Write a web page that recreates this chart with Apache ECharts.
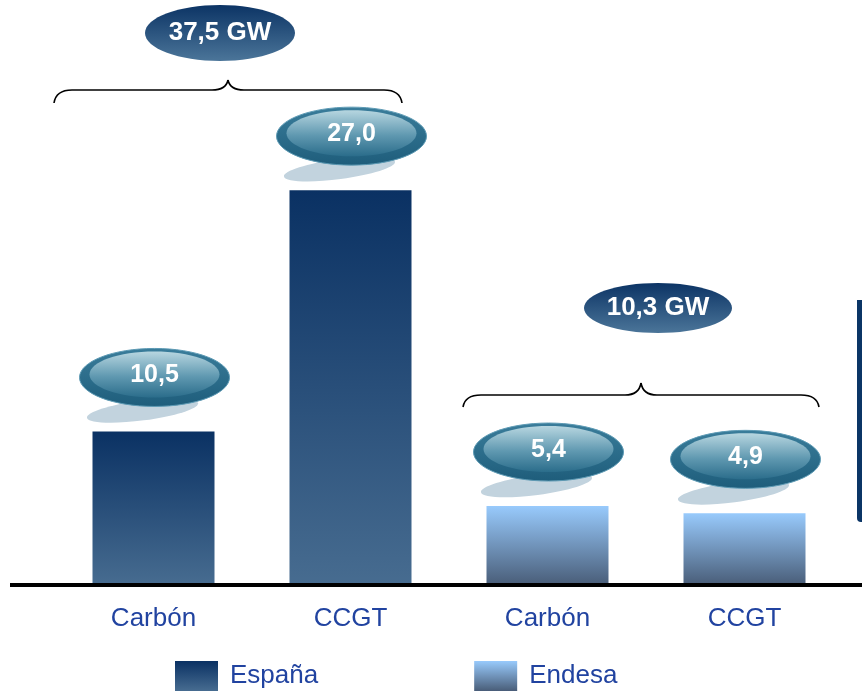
<!DOCTYPE html>
<html><head><meta charset="utf-8">
<script src="https://cdn.jsdelivr.net/npm/echarts@6/dist/echarts.min.js"></script>
<style>html,body{margin:0;padding:0;background:#fff}#c{width:862px;height:691px}</style>
</head><body><div id="c"></div>
<script>
const categories = ['Carbón', 'CCGT', 'Carbón', 'CCGT'];
const espana = [10.5, 27.0, null, null];
const endesa = [null, null, 5.4, 4.9];
const valueLabels = ['10,5', '27,0', '5,4', '4,9'];
const totals = ['37,5 GW', '10,3 GW'];
const seriesNames = ['España', 'Endesa'];

const chart = echarts.init(document.getElementById('c'));
const gEsp = new echarts.graphic.LinearGradient(0,0,0,1,[{offset:0,color:'#0a3163'},{offset:1,color:'#476c90'}]);
const gEnd = new echarts.graphic.LinearGradient(0,0,0,1,[{offset:0,color:'#98cafc'},{offset:1,color:'#495d78'}]);
const FONT = 'Liberation Sans, Arial, sans-serif';

chart.setOption({
  animation:false,
  grid:{left:55,right:19,top:0,bottom:106},
  xAxis:{type:'category',data:categories,axisLine:{show:false},axisTick:{show:false},
    axisLabel:{margin:21,fontSize:26,color:'#2143a0',fontFamily:FONT}},
  yAxis:{type:'value',min:0,max:40,show:false,splitLine:{show:false}},
  legend:{left:170,top:656,itemWidth:43,itemHeight:30,itemGap:156,icon:'rect',
    textStyle:{fontSize:26,color:'#2143a0',fontFamily:FONT,padding:[0,0,0,7]},
    data:seriesNames},
  series:[
    {name:seriesNames[0],type:'bar',data:espana,barWidth:122,barGap:'-100%',itemStyle:{color:gEsp}},
    {name:seriesNames[1],type:'bar',data:endesa,barWidth:122,barGap:'-100%',itemStyle:{color:gEnd}}
  ]
});

const g = [];
const base = chart.convertToPixel({seriesIndex:0},[0,0])[1];
g.push({type:'rect',shape:{x:10,y:base-2,width:852,height:4},style:{fill:'#000'},z:10});
g.push({type:'rect',shape:{x:857,y:300,width:6,height:222,r:[0,0,0,4]},style:{fill:'#0b3566'}});

function labelEllipse(cx,cy,text){
  g.push({type:'ellipse',shape:{cx:0,cy:0,rx:56,ry:10},x:cx-12,y:cy+33,rotation:0.13,
    style:{fill:'#c2d3de'},z:5});
  g.push({type:'ellipse',shape:{cx:cx,cy:cy,rx:75,ry:29},
    style:{fill:new echarts.graphic.LinearGradient(0,0,0,1,[{offset:0,color:'#3a7d9b'},{offset:1,color:'#1e5d7b'}]),
      stroke:'#5d9ab4',lineWidth:1},z:6});
  g.push({type:'ellipse',shape:{cx:cx,cy:cy-3,rx:65,ry:23},
    style:{fill:new echarts.graphic.LinearGradient(0,0,0,1,[{offset:0,color:'#b7d6e0'},{offset:0.55,color:'#5f98b0'},{offset:1,color:'#2b6d8b'}])},z:7});
  g.push({type:'text',x:cx,y:cy-2,style:{text:text,fill:'#fff',font:'bold 25px '+FONT,align:'center',verticalAlign:'middle'},z:8});
}
const sIdx = [0,0,1,1];
const vals = [espana[0],espana[1],endesa[2],endesa[3]];
for(let i=0;i<4;i++){
  const p = chart.convertToPixel({seriesIndex:sIdx[i]},[i,vals[i]]);
  labelEllipse(p[0]+1,p[1]-54,valueLabels[i]);
}
function totalEllipse(cx,cy,rx,ry,text){
  g.push({type:'ellipse',shape:{cx:cx,cy:cy,rx:rx,ry:ry},
    style:{fill:new echarts.graphic.LinearGradient(0,0,0,1,[{offset:0,color:'#0c3465'},{offset:1,color:'#4b7599'}])},z:6});
  g.push({type:'text',x:cx,y:cy,style:{text:text,fill:'#fff',font:'bold 26px '+FONT,align:'center',verticalAlign:'middle'},z:7});
}
totalEllipse(220,33,75,28,totals[0]);
totalEllipse(658,308,74,25,totals[1]);

function brace(x1,x2,xm,yEnd,yLine,yPeak){
  const st = {stroke:'#000',lineWidth:1.6,fill:null};
  g.push({type:'bezierCurve',shape:{x1:x1,y1:yEnd,x2:x1+18,y2:yLine,cpx1:x1+2,cpy1:yLine},style:st});
  g.push({type:'line',shape:{x1:x1+18,y1:yLine,x2:xm-16,y2:yLine},style:st});
  g.push({type:'bezierCurve',shape:{x1:xm-16,y1:yLine,x2:xm,y2:yPeak,cpx1:xm-2,cpy1:yLine},style:st});
  g.push({type:'bezierCurve',shape:{x1:xm,y1:yPeak,x2:xm+16,y2:yLine,cpx1:xm+2,cpy1:yLine},style:st});
  g.push({type:'line',shape:{x1:xm+16,y1:yLine,x2:x2-18,y2:yLine},style:st});
  g.push({type:'bezierCurve',shape:{x1:x2-18,y1:yLine,x2:x2,y2:yEnd,cpx1:x2-2,cpy1:yLine},style:st});
}
brace(54,402,228,103,90,80);
brace(463,819,641,407,395,383);
chart.setOption({graphic:g});
</script></body></html>
